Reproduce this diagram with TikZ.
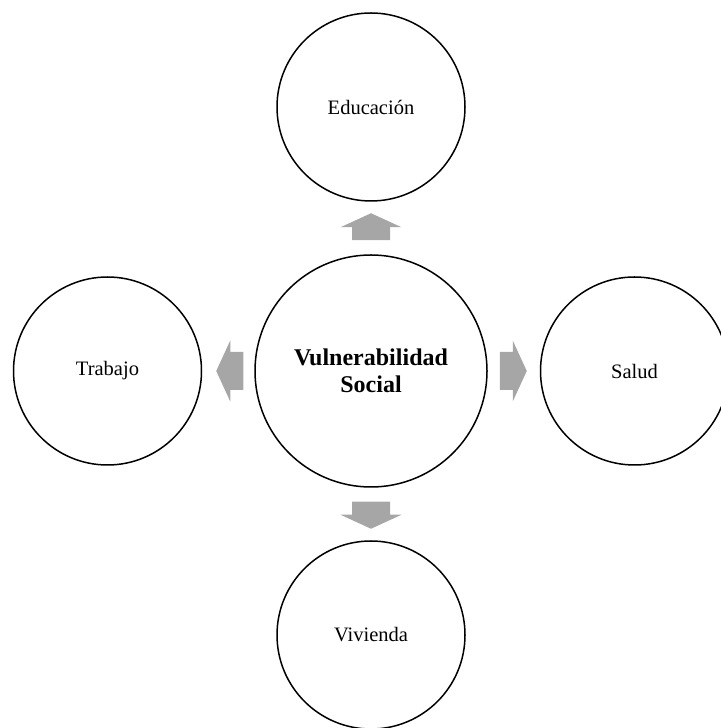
\documentclass[tikz,border=0pt]{standalone}
\usepackage{fontspec}
\setmainfont{Liberation Serif}
\usetikzlibrary{calc}
\definecolor{arrowgray}{HTML}{A6A6A6}
\tikzset{
  sat/.style={circle, draw=black, line width=1.5pt, minimum size=188pt, inner sep=0pt,
    font=\fontsize{20.5}{24}\selectfont, align=center},
  core/.style={circle, draw=black, line width=1.5pt, minimum size=232pt, inner sep=0pt,
    font=\fontsize{24}{27}\selectfont\bfseries, align=center},
  blockarrow/.style={fill=arrowgray, draw=none}
}
\newcommand\myblockarrow[2]{%
  \begin{scope}[shift={#1}, rotate=#2]
    \fill[blockarrow] (0,-19) -- (13,-19) -- (13,-30.5) -- (27,0) -- (13,30.5) -- (13,19) -- (0,19) -- cycle;
  \end{scope}}
\begin{document}
\begin{tikzpicture}[x=1pt, y=1pt]
  \useasboundingbox (0,0) rectangle (720,728);
  \node[core] (c) at (371,357) {Vulnerabilidad\\Social};
  \node[sat] (top) at (371,621) {Educación};
  \node[sat] (bot) at (371,93) {Vivienda};
  \node[sat] (lft) at (107.5,357) {Trabajo};
  \node[sat] (rgt) at (634.5,357) {Salud};
  \myblockarrow{($(c.north)+(0,14)$)}{90}
  \myblockarrow{($(c.south)+(0,-14)$)}{-90}
  \myblockarrow{($(c.west)+(-11,0)$)}{180}
  \myblockarrow{($(c.east)+(12,0)$)}{0}
\end{tikzpicture}
\end{document}
